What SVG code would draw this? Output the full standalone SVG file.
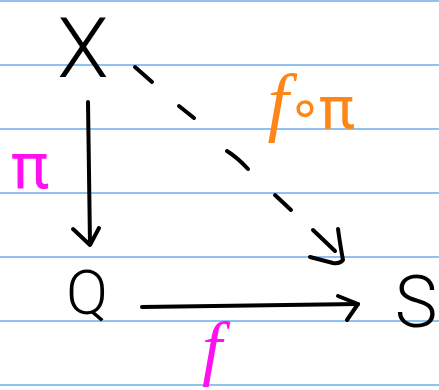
<svg xmlns="http://www.w3.org/2000/svg" width="439" height="390" viewBox="0 0 439 390">
<defs>
<style>
.rule{stroke:#6aaee8;stroke-width:1.5;fill:none}
.node{font-family:Roboto,"Open Sans","DejaVu Sans",sans-serif;font-weight:300;fill:#000}
.pi{font-family:Roboto,"Open Sans","DejaVu Sans",sans-serif;font-weight:400}
.fit{font-family:"Liberation Serif","DejaVu Serif",serif;font-style:italic}
.edge{stroke:#000;stroke-width:4;fill:none;stroke-linecap:round;stroke-linejoin:round}
.mag{fill:#ff10f0}
.org{fill:#ff8517}
</style>
</defs>
<rect width="439" height="390" fill="#fff"/>
<g id="rules">
<line class="rule" x1="0" y1="1" x2="439" y2="1"/>
<line class="rule" x1="0" y1="65" x2="439" y2="65"/>
<line class="rule" x1="0" y1="129" x2="439" y2="129"/>
<line class="rule" x1="0" y1="193" x2="439" y2="193"/>
<line class="rule" x1="0" y1="257" x2="439" y2="257"/>
<line class="rule" x1="0" y1="321" x2="439" y2="321"/>
<line class="rule" x1="0" y1="385" x2="439" y2="385"/>
</g>
<g id="connectors">
<g id="edge-pi">
<path class="edge" d="M88,102 L90,244"/>
<path class="edge" d="M73,229 L90,245 L99,228"/>
</g>
<g id="edge-f">
<path class="edge" d="M142,307 L358,304"/>
<path class="edge" d="M338,296 L358,304 L347,320"/>
</g>
<g id="edge-fpi">
<path class="edge" d="M135,67 L152,82 M179,106 L194,118 M227,151 Q238,158 248,169 M275,195 L291,210 M313,230 L335,251"/>
<path class="edge" d="M338,229 Q341,250 343,260 Q340,264 333,263 L310,257"/>
</g>
</g>
<g id="node-X"><text class="node" x="83" y="77" font-size="84" text-anchor="middle">X</text></g>
<g id="node-Q"><text class="node" x="87" y="314" font-size="62" text-anchor="middle">Q</text></g>
<g id="node-S"><text class="node" x="416" y="327" font-size="72" text-anchor="middle">S</text></g>
<g id="label-pi"><text class="pi mag" x="30" y="188" font-size="64" text-anchor="middle">π</text></g>
<g id="label-f"><text class="fit mag" x="212" y="372" font-size="72" text-anchor="middle">f</text></g>
<g id="label-fpi"><text class="org" text-anchor="middle"><tspan class="fit" x="278" y="127" font-size="76">f</tspan><tspan class="pi" x="305" y="126" font-size="55" font-family="DejaVu Sans">∘</tspan><tspan class="pi" x="337" y="128" font-size="60">π</tspan></text></g>
</svg>
